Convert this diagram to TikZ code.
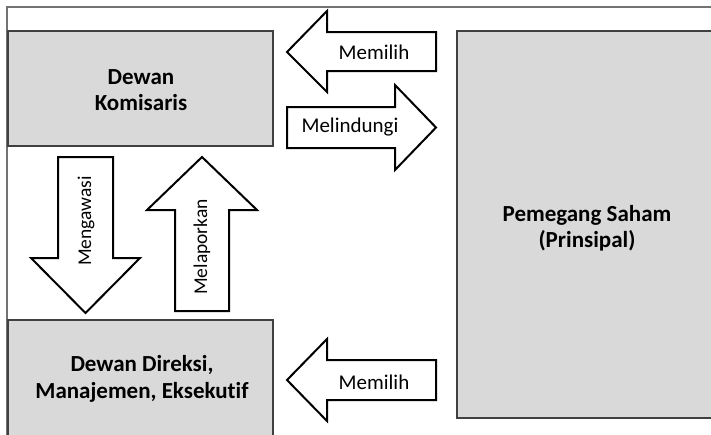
\documentclass[tikz,border=0pt]{standalone}
\usepackage{fontspec}
\setmainfont[Ligatures=NoCommon]{Carlito}
\begin{document}
\begin{tikzpicture}[x=1pt,y=-1pt,
  box/.style={draw=black!75,line width=2.6pt,fill=black!15},
  arrowshape/.style={draw=black,line width=2pt,fill=white,line join=miter},
  lbl/.style={font=\fontsize{21}{25}\selectfont,inner sep=0pt},
  vlbl/.style={font=\fontsize{19.5}{24}\selectfont,inner sep=0pt,rotate=90},
  boxlbl/.style={font=\fontsize{23}{26.5}\selectfont\bfseries,align=center,inner sep=0pt}]
\useasboundingbox (0,0) rectangle (711,434);
\clip (0,0) rectangle (711,434);
% frame
\draw[black!55,line width=1.5pt] (7,440) -- (7,7) -- (720,7);
% boxes
\draw[box] (8,31) rectangle (273,146);
\draw[box] (8,320) rectangle (273,445);
\draw[box] (457,31) rectangle (725,418);
\node[boxlbl] (kom) at (141,90) {Dewan\\Komisaris};
\node[boxlbl] (dir) at (142,379) {Dewan Direksi,\\Manajemen, Eksekutif};
\node[boxlbl] (pem) at (587,228) {Pemegang Saham\\(Prinsipal)};
% arrows
\draw[arrowshape] (287,52) -- (327,11) -- (327,32) -- (436,32) -- (436,71) -- (327,71) -- (327,92) -- cycle;
\draw[arrowshape] (287,107) -- (395,107) -- (395,85) -- (436,127.5) -- (395,170) -- (395,148) -- (287,148) -- cycle;
\draw[arrowshape] (287,380) -- (327,339) -- (327,360) -- (436,360) -- (436,400) -- (327,400) -- (327,421) -- cycle;
\draw[arrowshape] (58,157) -- (113,157) -- (113,258) -- (140,258) -- (85.5,313) -- (31,258) -- (58,258) -- cycle;
\draw[arrowshape] (202,157) -- (257,210) -- (229,210) -- (229,311) -- (175,311) -- (175,210) -- (147,210) -- cycle;
\node[lbl] (m1) at (374,52) {Memilih};
\node[lbl] (mel) at (350,127.5) {Melindungi};
\node[lbl] (m2) at (374,382) {Memilih};
\node[vlbl] (meng) at (86,221) {Mengawasi};
\node[vlbl] (lap) at (202,247) {Melaporkan};
\end{tikzpicture}
\end{document}
